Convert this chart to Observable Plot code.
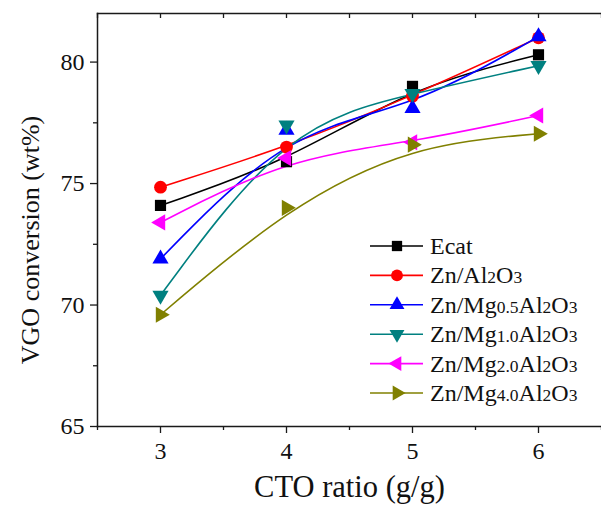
<!DOCTYPE html>
<html>
<head>
<meta charset="utf-8">
<script src="https://cdn.jsdelivr.net/npm/d3@7"></script>
<script src="https://cdn.jsdelivr.net/npm/@observablehq/plot@0.6"></script>
<style>
  body { margin: 0; background: #fff; }
  #chart { width: 601px; height: 505px; }
</style>
</head>
<body>
<div id="chart"></div>
<script>
// Catalyst-to-oil ratio (g/g)
const cto = [3, 4, 5, 6];

// VGO conversion (wt%) for each catalyst
const ecat   = [74.1, 75.9, 79.0, 80.3];
const znAl   = [74.85, 76.5, 78.6, 81.0];
const znMg05 = [71.9, 77.2, 78.1, 81.05];
const znMg10 = [70.4, 77.4, 78.7, 79.85];
const znMg20 = [73.4, 76.05, 76.7, 77.8];
const znMg40 = [69.6, 74.0, 76.6, 77.05];

const seriesNames  = ["Ecat", "Zn/Al2O3", "Zn/Mg0.5Al2O3", "Zn/Mg1.0Al2O3", "Zn/Mg2.0Al2O3", "Zn/Mg4.0Al2O3"];
const seriesValues = [ecat, znAl, znMg05, znMg10, znMg20, znMg40];
const seriesColors = ["#000000", "#ff0000", "#0000ff", "#008080", "#ff00ff", "#808000"];
const seriesSymbols = ["square", "circle", "triangle", "triangle", "triangle", "triangle"];
const seriesRotate  = [0, 0, 0, 180, -90, 90];
const seriesRadius  = [6.3, 6.4, 6.0, 6.0, 6.0, 6.0];

// Axis ticks
const xTicks = [3, 4, 5, 6];
const xMinorTicks = [2.5, 3.5, 4.5, 5.5, 6.5];
const yTicks = [65, 70, 75, 80];
const yMinorTicks = [67.5, 72.5, 77.5];
const xTopTicks = [2.5, 3, 3.5, 4, 4.5, 5, 5.5, 6, 6.5];

const xTitle = "CTO ratio (g/g)";
const yTitle = "VGO conversion (wt%)";

const font = "Liberation Serif";
const axisColor = "#1a1a1a";

const series = seriesNames.map((name, i) => ({
  name,
  color: seriesColors[i],
  symbol: seriesSymbols[i],
  rotate: seriesRotate[i],
  r: seriesRadius[i],
  rows: cto.map((x, j) => ({x, y: seriesValues[i][j]}))
}));

const tickStyle = {stroke: axisColor, strokeWidth: 1.3, label: null, fontFamily: font};

const marks = [
  Plot.frame({anchor: "top", stroke: axisColor, strokeWidth: 1.5}),
  Plot.frame({anchor: "left", stroke: axisColor, strokeWidth: 1.5}),
  Plot.frame({anchor: "bottom", stroke: axisColor, strokeWidth: 1.5}),
  Plot.axisX({...tickStyle, ticks: xTicks, tickSize: 7, tickPadding: 8, fontSize: 24, tickFormat: d3.format("d"), fill: "#111"}),
  Plot.axisX({...tickStyle, ticks: xMinorTicks, tickSize: 4, tickFormat: () => ""}),
  Plot.axisX({...tickStyle, anchor: "top", ticks: xTopTicks, tickSize: -4, tickFormat: () => ""}),
  Plot.axisY({...tickStyle, ticks: yTicks, tickSize: 7, tickPadding: 6, fontSize: 24, tickFormat: d3.format("d"), fill: "#111"}),
  Plot.axisY({...tickStyle, ticks: yMinorTicks, tickSize: 4, tickFormat: () => ""}),
  Plot.text([xTitle], {frameAnchor: "bottom", dy: 61, fontSize: 30.5, fontFamily: font, lineAnchor: "middle", textAnchor: "middle", fill: "#111"}),
  Plot.text([yTitle], {frameAnchor: "left", dx: -67, dy: 20, rotate: -90, fontSize: 26, fontFamily: font, lineAnchor: "middle", textAnchor: "middle", fill: "#111"})
];

for (const s of series) {
  marks.push(Plot.line(s.rows, {x: "x", y: "y", curve: "basis", stroke: s.color, strokeWidth: 1.6}));
}
for (const s of series) {
  marks.push(Plot.dot(s.rows, {x: "x", y: "y", symbol: s.symbol, r: s.r, rotate: s.rotate, fill: s.color, stroke: "none"}));
}

const chart = Plot.plot({
  width: 601,
  height: 505,
  marginLeft: 97,
  marginRight: 0,
  marginTop: 13,
  marginBottom: 79,
  style: {fontFamily: font, background: "#fff", color: "#111"},
  x: {domain: [2.5, 6.5]},
  y: {domain: [65, 82]},
  marks
});

// Legend inside the plot area
const svg = d3.select(chart);
const legend = svg.append("g")
  .attr("font-family", font)
  .attr("text-anchor", "start")
  .attr("fill", "#111");
const symbolTypes = {square: d3.symbolSquare, circle: d3.symbolCircle, triangle: d3.symbolTriangle};
series.forEach((s, i) => {
  const g = legend.append("g").attr("transform", `translate(370,${246 + i * 29.4})`);
  g.append("line").attr("x1", 0).attr("x2", 53).attr("y1", 0).attr("y2", 0)
    .attr("stroke", s.color).attr("stroke-width", 1.6);
  g.append("path")
    .attr("d", d3.symbol(symbolTypes[s.symbol], s.r * s.r * Math.PI * 0.85)())
    .attr("transform", `translate(27,0) rotate(${s.rotate})`)
    .attr("fill", s.color);
  const t = g.append("text").attr("x", 60).attr("y", 0).attr("dy", "0.33em").attr("font-size", 24);
  // digits and decimal points set in a smaller size
  s.name.split(/([0-9.]+)/).filter(p => p.length).forEach(p => {
    const span = t.append("tspan").text(p);
    if (/^[0-9.]+$/.test(p)) span.attr("font-size", 17.5);
  });
});

document.getElementById("chart").appendChild(chart);
</script>
</body>
</html>
